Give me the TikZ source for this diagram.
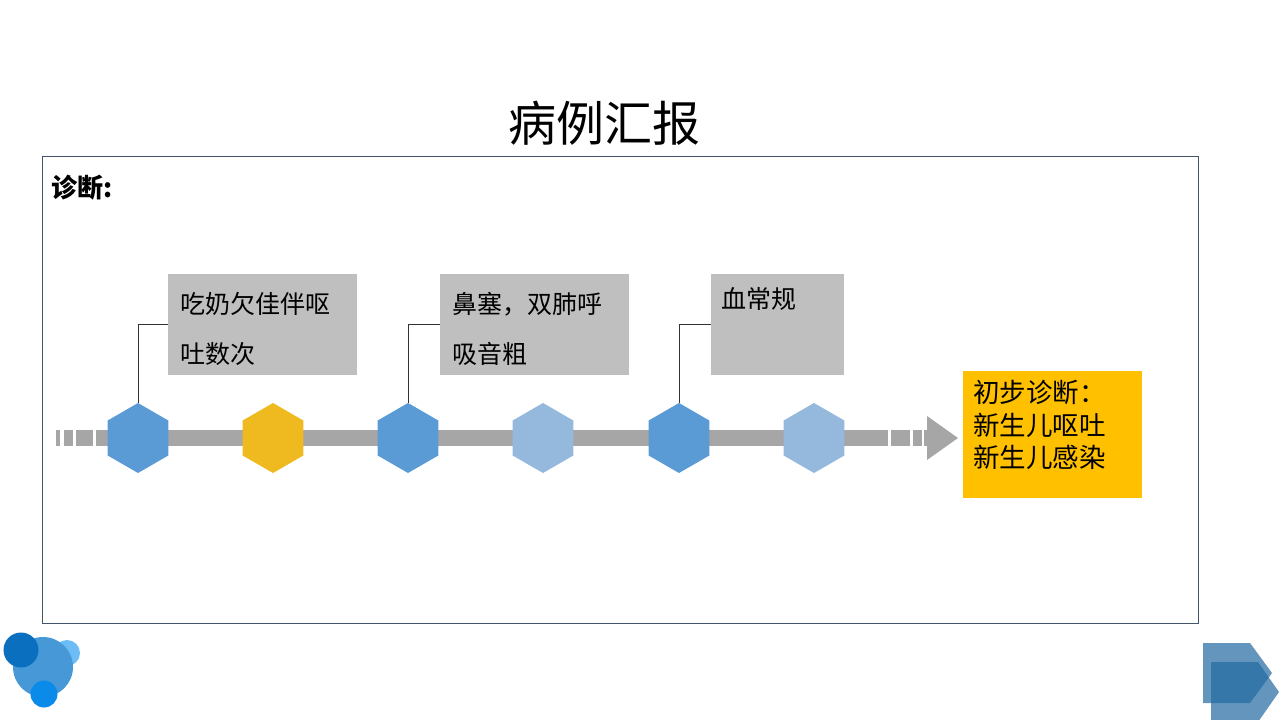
\documentclass[tikz,border=0pt]{standalone}
\usepackage{fontspec}
\setmainfont{Noto Sans CJK SC}
\usetikzlibrary{shapes.geometric}
\definecolor{hexblue}{HTML}{5B9BD5}
\definecolor{hexgold}{HTML}{EFB920}
\definecolor{hexpale}{HTML}{95B8DD}
\definecolor{bargray}{HTML}{A6A6A6}
\definecolor{boxgray}{HTML}{BFBFBF}
\definecolor{diaggold}{HTML}{FFC000}
\definecolor{framecol}{HTML}{44546A}
\definecolor{logodark}{HTML}{0B6FBF}
\definecolor{logomid}{HTML}{4798D6}
\definecolor{logolight}{HTML}{6CBDF5}
\definecolor{logobright}{HTML}{0A8BE9}
\definecolor{navblue}{RGB}{34,106,161}
\tikzset{
 hexa/.style={regular polygon,regular polygon sides=6,shape border rotate=30,
   minimum size=70pt,inner sep=0pt},
 gbox/.style={fill=boxgray,anchor=north west,minimum height=101pt,inner sep=0pt},
 btext/.style={anchor=north west,inner sep=0pt,align=left,
   font=\fontsize{25}{50}\selectfont},
 link/.style={draw=black!80,line width=0.8pt},
}
\begin{document}
\begin{tikzpicture}[x=1pt,y=-1pt]
 \useasboundingbox (0,0) rectangle (1280,720);
 % title and frame
 \node[font=\fontsize{48}{52}\selectfont] (title) at (604,123) {病例汇报};
 \draw[framecol,line width=0.8pt] (42,156) rectangle (1198,623);
 \node[anchor=west,inner sep=0pt,font=\fontsize{26}{30}\selectfont\bfseries] (head) at (51,188) {诊断:};
 % time line bar
 \fill[bargray] (96,430) rectangle (888,446);
 \foreach \a/\b in {56/60,64/73,76/93,891/910,913/922,924/927}
  \fill[bargray] (\a,430) rectangle (\b,446);
 \fill[bargray] (927,416) -- (958,438) -- (927,460) -- cycle;
 % hexagons
 \foreach \n/\x/\c in {h1/138/hexblue,h2/273/hexgold,h3/408/hexblue,
   h4/543/hexpale,h5/679/hexblue,h6/814/hexpale}
  \node[hexa,fill=\c] (\n) at (\x,438) {};
 % findings
 \node[gbox,minimum width=189pt] (b1) at (168,274) {};
 \node[gbox,minimum width=189pt] (b2) at (440,274) {};
 \node[gbox,minimum width=133pt] (b3) at (711,274) {};
 \node[btext] (t1) at (180,292) {吃奶欠佳伴呕\\吐数次};
 \node[btext] (t2) at (452,292) {鼻塞，双肺呼\\吸音粗};
 \node[btext] (t3) at (721,287) {血常规};
 \draw[link] (h1.north) |- (b1.west);
 \draw[link] (h3.north) |- (b2.west);
 \draw[link] (h5.north) |- (b3.west);
 % diagnosis
 \node[fill=diaggold,anchor=north west,minimum width=179pt,minimum height=127pt,
   inner sep=0pt] (dx) at (963,371) {};
 \node[anchor=north west,inner sep=0pt,align=left,
   font=\fontsize{26.5}{32.5}\selectfont] (dxt) at (973,380) {初步诊断：\\新生儿呕吐\\新生儿感染};
 % logo
 \fill[logolight] (67,653) circle[radius=13pt];
 \fill[logomid] (43,667) circle[radius=30pt];
 \fill[logodark] (21,650) circle[radius=17.5pt];
 \fill[logobright] (44,694) circle[radius=13.5pt];
 % next button
 \fill[navblue,opacity=0.7] (1203,643) -- (1250,643) -- (1272,673) -- (1250,703) -- (1203,703) -- cycle;
 \fill[navblue,opacity=0.7] (1211,662) -- (1258,662) -- (1279,692) -- (1258,722) -- (1211,722) -- cycle;
\end{tikzpicture}
\end{document}
